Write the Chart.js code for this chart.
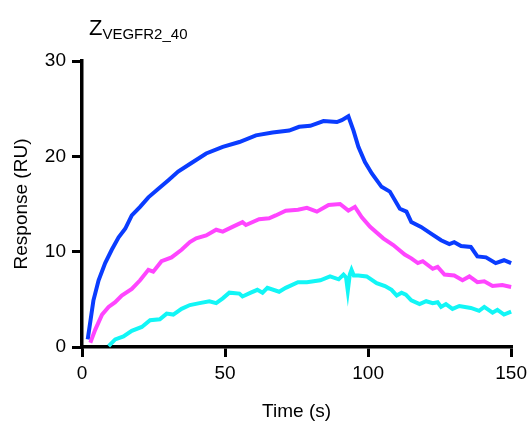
<!DOCTYPE html>
<html>
<head>
<meta charset="utf-8">
<script src="https://cdn.jsdelivr.net/npm/chart.js@4"></script>
<style>
  html, body { margin: 0; padding: 0; background: #fff; }
  #wrap { width: 532px; height: 424px; position: relative; }
</style>
</head>
<body>
<div id="wrap"><canvas id="spr"></canvas></div>
<script>
const xTicks = [0, 50, 100, 150];
const yTicks = [0, 10, 20, 30];

const blueT = [2.0, 4.0, 5.8, 8.1, 10.4, 12.8, 15.1, 17.4, 20.3, 23.2, 26.7, 30.2, 33.6, 37.7, 43.4, 49.2, 55.0, 60.8, 66.6, 72.4, 75.9, 79.8, 84.4, 89.1, 90.8, 93.1, 94.9, 96.6, 98.9, 101.3, 104.7, 107.6, 111.1, 113.4, 115.1, 118.5, 122.0, 125.5, 128.4, 130.1, 132.5, 135.9, 138.2, 141.2, 144.6, 147.5, 150];
const blueY = [0.8, 4.9, 7.0, 8.8, 10.2, 11.5, 12.4, 13.8, 14.7, 15.7, 16.6, 17.5, 18.4, 19.2, 20.3, 21.0, 21.5, 22.2, 22.5, 22.7, 23.1, 23.2, 23.7, 23.6, 23.8, 24.2, 22.7, 21.0, 19.4, 18.2, 16.8, 16.3, 14.5, 14.2, 13.1, 12.6, 11.9, 11.2, 10.8, 11.0, 10.6, 10.5, 9.5, 9.4, 8.8, 9.1, 8.8];

const pinkT = [2.9, 4.6, 7.0, 9.3, 11.6, 13.9, 17.4, 20.3, 23.2, 24.9, 27.8, 31.3, 34.8, 37.7, 39.9, 43.4, 46.9, 49.2, 52.6, 56.1, 57.3, 61.9, 65.4, 67.7, 71.2, 75.5, 78.6, 82.1, 86.2, 90.2, 93.1, 95.4, 97.8, 100.7, 105.3, 108.8, 112.8, 115.1, 117.4, 119.1, 122.6, 124.3, 126.7, 130.1, 133.0, 135.4, 138.2, 140.6, 143.5, 146.9, 150];
const pinkY = [0.45, 1.8, 3.4, 4.2, 4.7, 5.4, 6.1, 7.0, 8.1, 7.9, 9.0, 9.4, 10.2, 11.0, 11.4, 11.7, 12.3, 12.1, 12.6, 13.1, 12.8, 13.4, 13.5, 13.8, 14.3, 14.4, 14.6, 14.2, 14.9, 15.0, 14.3, 14.7, 13.6, 12.6, 11.4, 10.7, 9.7, 9.3, 8.8, 9.0, 8.2, 8.4, 7.6, 7.5, 7.0, 7.4, 6.8, 6.9, 6.4, 6.5, 6.3];

const cyanT = [9.3, 11.6, 14.5, 17.4, 20.9, 23.8, 27.2, 29.6, 31.9, 34.8, 37.7, 41.1, 44.5, 46.9, 49.2, 51.5, 55.0, 56.1, 59.0, 61.3, 63.1, 64.8, 68.9, 71.2, 75.5, 78.6, 83.3, 86.7, 89.7, 91.4, 92.3, 92.9, 93.6, 94.2, 95.0, 96.6, 99.5, 103.0, 105.9, 108.2, 110.0, 111.7, 113.2, 115.1, 118.0, 120.3, 122.6, 124.3, 125.5, 127.2, 129.5, 131.9, 135.9, 138.8, 140.6, 143.5, 145.2, 147.5, 150];
const cyanY = [0.1, 0.8, 1.1, 1.7, 2.1, 2.8, 2.9, 3.5, 3.4, 4.0, 4.4, 4.6, 4.8, 4.6, 5.1, 5.7, 5.6, 5.3, 5.7, 6.0, 5.7, 6.2, 5.8, 6.2, 6.8, 6.8, 7.0, 7.4, 7.1, 7.6, 7.3, 5.9, 7.6, 8.1, 7.5, 7.5, 7.4, 6.7, 6.4, 6.0, 5.4, 5.7, 5.5, 4.9, 4.5, 4.8, 4.6, 4.7, 4.2, 4.5, 4.0, 4.3, 4.1, 3.8, 4.2, 3.6, 3.9, 3.4, 3.7];

const pts = (t, y) => t.map((v, i) => ({ x: v, y: y[i] }));

const FONT = "'Liberation Sans', Arial, sans-serif";

// title with subscript, drawn on the canvas
const titlePlugin = {
  id: 'subTitle',
  afterDraw(chart) {
    const ctx = chart.ctx;
    ctx.save();
    ctx.fillStyle = '#000';
    ctx.textBaseline = 'alphabetic';
    ctx.font = `22px ${FONT}`;
    ctx.fillText('Z', 89, 35);
    const w = ctx.measureText('Z').width;
    ctx.font = `15px ${FONT}`;
    ctx.fillText('VEGFR2_40', 89 + w, 39);
    ctx.restore();
  }
};

const line = (data, color) => ({
  data,
  borderColor: color,
  backgroundColor: color,
  borderWidth: 4,
  pointRadius: 0,
  tension: 0,
  fill: false,
  clip: false
});

new Chart(document.getElementById('spr'), {
  type: 'line',
  data: {
    datasets: [
      line(pts(cyanT, cyanY), '#12f6f6'),
      line(pts(pinkT, pinkY), '#ff45ff'),
      line(pts(blueT, blueY), '#0a3cff')
    ]
  },
  plugins: [titlePlugin],
  options: {
    responsive: true,
    maintainAspectRatio: false,
    animation: false,
    layout: { padding: { top: 61, right: 19, left: 0, bottom: 0 } },
    plugins: {
      legend: { display: false },
      tooltip: { enabled: false }
    },
    scales: {
      x: {
        type: 'linear',
        min: 0,
        max: 150,
        afterBuildTicks: s => { s.ticks = xTicks.map(v => ({ value: v })); },
        afterFit: s => { s.height = 77; },
        grid: { drawOnChartArea: false, drawTicks: true, tickLength: 10, color: '#000', lineWidth: 3 },
        border: { display: true, color: '#000', width: 3.5 },
        ticks: { color: '#000', font: { family: FONT, size: 19 }, padding: 5, maxRotation: 0 },
        title: { display: true, text: 'Time (s)', color: '#000', font: { family: FONT, size: 19 }, padding: { top: 0, bottom: 1 } }
      },
      y: {
        min: 0,
        max: 30,
        afterBuildTicks: s => { s.ticks = yTicks.map(v => ({ value: v })); },
        afterFit: s => { s.width = 82; },
        grid: { drawOnChartArea: false, drawTicks: true, tickLength: 10, color: '#000', lineWidth: 3 },
        border: { display: true, color: '#000', width: 3.5 },
        ticks: { color: '#000', font: { family: FONT, size: 19 }, padding: 6 },
        title: { display: true, text: 'Response (RU)', color: '#000', font: { family: FONT, size: 19 }, padding: { top: 10, bottom: 0 } }
      }
    }
  }
});
</script>
</body>
</html>
